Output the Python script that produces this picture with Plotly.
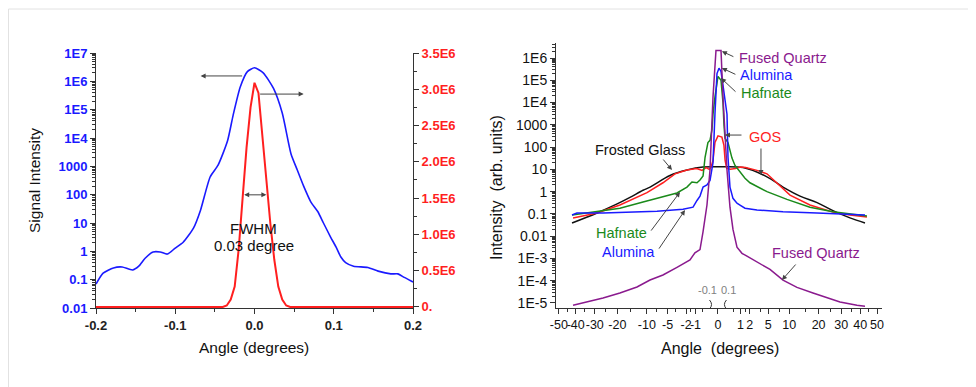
import numpy as np
import plotly.graph_objects as go

W, H = 976, 387
OX, OY = 8, 8  # page body margin of the rendered html
FONT = "Arial, Liberation Sans, sans-serif"

# ---------------- Left panel data ----------------
left_angle = [-0.2, -0.191, -0.178, -0.167, -0.154, -0.146, -0.138, -0.128, -0.119, -0.110, -0.100,
              -0.090, -0.077, -0.068, -0.056, -0.046, -0.034, -0.027, -0.018, -0.009, 0.0,
              0.011, 0.024, 0.035, 0.046, 0.054, 0.062, 0.071, 0.080, 0.087, 0.096, 0.103,
              0.109, 0.115, 0.125, 0.143, 0.156, 0.172, 0.181, 0.189, 0.2]
left_signal = [0.07, 0.17, 0.26, 0.28, 0.22, 0.3, 0.57, 0.95, 0.95, 0.8, 1.3,
               2.1, 6.6, 29, 420, 1100, 8000, 6.3e4, 6.3e5, 2.2e6, 3.0e6,
               2.0e6, 5.6e5, 7.6e4, 2800, 740, 200, 56, 25, 10, 3.2, 1.4,
               0.63, 0.4, 0.3, 0.27, 0.2, 0.16, 0.16, 0.12, 0.083]

red_angle = [-0.2, -0.04, -0.035, -0.03, -0.025, -0.02, -0.015, -0.01, -0.005, 0.0,
             0.005, 0.01, 0.015, 0.02, 0.025, 0.03, 0.035, 0.04, 0.045, 0.2]
red_signal = [0, 0, 0.02e6, 0.1e6, 0.28e6, 0.79e6, 1.5e6, 2.2e6, 2.75e6, 3.09e6,
              2.95e6, 2.34e6, 1.7e6, 1.15e6, 0.65e6, 0.28e6, 0.1e6, 0.02e6, 0, 0]

left_x_ticks = [-0.2, -0.1, 0.0, 0.1, 0.2]
left_x_labels = ["-0.2", "-0.1", "0.0", "0.1", "0.2"]
left_y_ticks = [1e-2, 1e-1, 1, 10, 100, 1000, 1e4, 1e5, 1e6, 1e7]
left_y_labels = ["0.01", "0.1", "1", "10", "100", "1000", "1E4", "1E5", "1E6", "1E7"]
red_ticks = [0, 0.5e6, 1.0e6, 1.5e6, 2.0e6, 2.5e6, 3.0e6, 3.5e6]
red_labels = ["0.", "0.5E6", "1.0E6", "1.5E6", "2.0E6", "2.5E6", "3.0E6", "3.5E6"]

# ---------------- Right panel data ----------------
fg_angle = [-42.1, -28.9, -20.1, -15.3, -11.1, -9.1, -4.55, -1.9, -0.44, 0.0, 1.24, 4.74,
            8.35, 13.3, 19.4, 26.1, 34.4, 42.7]
fg_val = [0.039, 0.11, 0.28, 0.55, 1.15, 1.6, 5.3, 9.3, 12.6, 13, 12, 4.6,
          1.6, 0.63, 0.32, 0.14, 0.066, 0.039]

gos_angle = [-41.5, -28.9, -19.0, -15.3, -9.96, -5.98, -3.65, -1.9, -0.9, -0.5, -0.28, -0.15,
             -0.1, -0.05, -0.018, 0.0, 0.03, 0.07, 0.1, 0.15, 0.3, 0.6, 1.0, 1.5, 2.0, 3.0,
             4.74, 6.88, 10.24, 16.7, 26.1, 34.4, 43.85]
gos_val = [0.066, 0.11, 0.25, 0.4, 0.9, 2.5, 6.3, 9.3, 11, 9, 12, 10,
           12, 25, 160, 320, 280, 120, 25, 11, 10, 11, 12.6, 12, 11, 9,
           6.3, 2.5, 0.7, 0.25, 0.12, 0.09, 0.072]

hf_angle = [-42.1, -28.9, -19.0, -11.1, -5.98, -3.32, -1.9, -1.34, -0.87, -0.64, -0.44, -0.33,
            -0.2, -0.126, -0.071, -0.049, -0.018, 0.0, 0.018, 0.049, 0.071, 0.097, 0.198,
            0.284, 0.387, 0.571, 0.956, 1.44, 2.02, 4.74, 9.4, 16.7, 26.1, 34.4, 43.85]
hf_val = [0.089, 0.126, 0.18, 0.34, 0.58, 0.87, 1.6, 2.7, 2.5, 3.3, 5, 35,
          160, 200, 600, 3000, 1.8e4, 1.5e5, 1e5, 1e4, 1000, 250, 160,
          80, 32, 15, 8, 4, 2.5, 1.0, 0.45, 0.2, 0.126, 0.1, 0.08]

al_angle = [-42.1, -39.3, -26.1, -16.4, -7.35, -2.42, -1.23, -0.87, -0.64, -0.44, -0.24, -0.126,
            -0.071, -0.049, -0.018, -0.002, 0.002, 0.018, 0.049, 0.097, 0.16, 0.198, 0.284,
            0.444, 0.713, 0.956, 1.44, 3.0, 8.35, 19.36, 34.4, 42.7]
al_val = [0.089, 0.11, 0.11, 0.12, 0.13, 0.16, 0.2, 0.4, 0.63, 1.6, 2.0, 3.2,
          10, 20, 3200, 2e5, 3.5e5, 2.5e5, 6e4, 1e4, 3000, 35, 1.6,
          0.5, 0.3, 0.25, 0.18, 0.15, 0.126, 0.11, 0.1, 0.089]

fq_angle = [-41.5, -33.9, -26.1, -19.0, -12.96, -9.13, -5.98, -3.32, -1.55, -1.05, -0.64,
            -0.44, -0.24, -0.126, -0.049, -0.008, 0.018, 0.049, 0.16, 0.284, 0.444, 0.713,
            1.138, 1.66, 3.16, 5.34, 8.35, 12.33, 17.83, 23.47, 29.4, 38.17, 42.7]
fq_val = [7.9e-6, 1.1e-5, 1.66e-5, 2.8e-5, 5.2e-5, 1.07e-4, 1.8e-4, 4e-4, 8.5e-4, 1.8e-3, 2.5e-3,
          0.016, 0.25, 9.3, 1.8e4, 2.2e6, 2.2e6, 1.8e4, 9.3, 0.2, 0.02, 3.2e-3,
          1.7e-3, 1.26e-3, 6.3e-4, 3.2e-4, 1.07e-4, 5e-5, 2.8e-5, 1.66e-5, 1.1e-5, 7.9e-6, 7.2e-6]

right_x_ticks = [-50, -40, -30, -20, -10, -5, -2, -1, 0, 1, 2, 5, 10, 20, 30, 40, 50]
right_x_labels = [str(v) for v in right_x_ticks]
right_x_minor = [-45, -35, -25, -15, -7.5, -3.5, -1.5, -0.5, 0.5, 1.5, 3.5, 7.5, 15, 25, 35, 45]
right_y_ticks = [1e-5, 1e-4, 1e-3, 1e-2, 1e-1, 1, 10, 100, 1000, 1e4, 1e5, 1e6]
right_y_labels = ["1E-5", "1E-4", "1E-3", "0.01", "0.1", "1", "10", "100", "1000", "1E4", "1E5", "1E6"]


def sq(a):
    """signed square-root scale used by the right panel's angle axis"""
    a = np.asarray(a, dtype=float)
    return np.sign(a) * np.sqrt(np.abs(a))


def log_minor(lo, hi):
    return [k * 10.0 ** n for n in range(lo, hi) for k in range(2, 10)]


def px(x):
    return (x - OX) / W


def py(y):
    return 1 - (y - OY) / H


BLUE = "#1a1aff"
RED = "#ff1f1f"
GREEN = "#1a8a1a"
PURPLE = "#8a1a8e"
BLACK = "#111111"

fig = go.Figure()

# left panel traces
fig.add_trace(go.Scatter(x=red_angle, y=red_signal, mode="lines", xaxis="x", yaxis="y2",
                         line=dict(color=RED, width=2), hoverinfo="skip"))
fig.add_trace(go.Scatter(x=left_angle, y=left_signal, mode="lines", xaxis="x", yaxis="y",
                         line=dict(color=BLUE, width=1.6, shape="spline", smoothing=0.6),
                         hoverinfo="skip"))

# right panel traces
for ang, val, col, shp in [
    (fg_angle, fg_val, BLACK, "spline"),
    (gos_angle, gos_val, RED, "linear"),
    (hf_angle, hf_val, GREEN, "linear"),
    (al_angle, al_val, BLUE, "linear"),
    (fq_angle, fq_val, PURPLE, "linear"),
]:
    fig.add_trace(go.Scatter(x=sq(ang), y=val, mode="lines", xaxis="x2", yaxis="y3",
                             line=dict(color=col, width=1.5, shape=shp), hoverinfo="skip"))

axis_common = dict(showgrid=False, zeroline=False, showline=True, linecolor="#333333",
                   linewidth=1, ticks="outside", ticklen=5, tickcolor="#333333", tickwidth=1,
                   automargin=False)

fig.update_layout(
    template="none",
    width=W, height=H,
    margin=dict(l=0, r=0, t=0, b=0, pad=0),
    paper_bgcolor="white", plot_bgcolor="white",
    showlegend=False,
    font=dict(family=FONT, color="#111111"),
    xaxis=dict(domain=[px(96), px(413)], range=[-0.2, 0.2], anchor="y",
               tickmode="array", tickvals=left_x_ticks, ticktext=left_x_labels,
               tickfont=dict(size=13, color="#222222", weight="bold"), tickangle=0,
               minor=dict(tickmode="array", tickvals=[-0.15, -0.05, 0.05, 0.15], ticks="outside",
                          ticklen=3, tickcolor="#333333"),
               layer="below traces", **axis_common),
    yaxis=dict(domain=[py(308), py(53)], type="log", range=[-2, 7], anchor="x",
               tickmode="array", tickvals=left_y_ticks, ticktext=left_y_labels,
               tickfont=dict(size=13, color=BLUE, weight="bold"),
               minor=dict(tickmode="array", tickvals=log_minor(-2, 7), ticks="outside",
                          ticklen=3, tickcolor="#333333"),
               layer="below traces", **axis_common),
    yaxis2=dict(overlaying="y", side="right", anchor="x", range=[-0.015e6, 3.5e6],
                tickmode="array", tickvals=red_ticks, ticktext=red_labels,
                tickfont=dict(size=13, color=RED, weight="bold"),
                minor=dict(tickmode="array", tickvals=[0.25e6 + 0.5e6 * i for i in range(7)],
                           ticks="outside", ticklen=3, tickcolor="#333333"),
                layer="below traces", **axis_common),
    xaxis2=dict(domain=[px(556), px(882)], range=[-7.2, 7.29], anchor="y3",
                tickmode="array", tickvals=list(sq(right_x_ticks)), ticktext=right_x_labels,
                tickfont=dict(size=12.5, color="#111111"), tickangle=0,
                minor=dict(tickmode="array", tickvals=list(sq(right_x_minor)), ticks="outside",
                           ticklen=3, tickcolor="#333333"),
                **axis_common),
    yaxis3=dict(domain=[py(308), py(43)], type="log", range=[-5.226, 6.674], anchor="x2",
                tickmode="array", tickvals=right_y_ticks, ticktext=right_y_labels,
                tickfont=dict(size=14, color="#111111"),
                minor=dict(tickmode="array", tickvals=log_minor(-5, 7), ticks="outside",
                           ticklen=3, tickcolor="#333333"),
                **axis_common),
)

ann = []


def text(x, y, s, size=15, color="#111111", angle=0):
    ann.append(dict(x=px(x), y=py(y), xref="paper", yref="paper", text=s, showarrow=False,
                    font=dict(size=size, color=color, family=FONT), textangle=angle,
                    xanchor="center", yanchor="middle"))


def arrow(x, y, ax, ay, xref, yref, side="end", color="#444444"):
    ann.append(dict(x=x, y=y, xref=xref, yref=yref, ax=ax, ay=ay, axref="pixel", ayref="pixel",
                    text="", showarrow=True, arrowhead=2, arrowsize=1, arrowwidth=1,
                    arrowcolor=color, arrowside=side, standoff=0, startstandoff=0))


# axis titles
text(34, 181, "Signal Intensity", size=15.5, angle=-90)
text(254, 347, "Angle (degrees)", size=15.5)
text(497, 188, "Intensity\u00a0 (arb. units)", size=16, angle=-90)
text(720, 348, "Angle\u00a0 (degrees)", size=16)

# left panel annotations
arrow(-0.068, 6.19, 43, 0, "x", "y")
arrow(0.062, 5.55, -45, 0, "x", "y")
arrow(0.015, 1.545e6, -23.7, 0, "x", "y2", side="end+start")
text(254, 228, "FWHM", size=15)
text(254, 246, "0.03 degree", size=15)

# right panel labels
text(783, 58, "Fused Quartz", size=14.5, color=PURPLE)
text(766, 75, "Alumina", size=14.5, color=BLUE)
text(766, 93, "Hafnate", size=14.5, color=GREEN)
text(765, 137, "GOS", size=14.5, color=RED)
text(640, 150, "Frosted Glass", size=14.5, color=BLACK)
text(621, 233, "Hafnate", size=14.5, color=GREEN)
text(628, 252, "Alumina", size=14.5, color=BLUE)
text(816, 253, "Fused Quartz", size=14.5, color=PURPLE)


def rx(a):
    return float(sq(a))


arrow(rx(0.03), 6.3, 13, 6, "x2", "y3")
arrow(rx(0.03), 5.55, 15, 7, "x2", "y3")
arrow(rx(0.018), 5.1, 16, 15, "x2", "y3")
arrow(rx(0.097), 2.54, 18, 0, "x2", "y3")
arrow(rx(3.65), 0.746, 0, -28, "x2", "y3")
arrow(rx(-4.18), 0.97, -10, -12, "x2", "y3")
arrow(rx(-2.85), -0.02, -30, 40, "x2", "y3")
arrow(rx(-2.15), -0.83, -27, 40, "x2", "y3")
arrow(rx(8.09), -3.97, 15, -17, "x2", "y3")

# gray break labels near zero
ann.append(dict(x=rx(-0.1), y=py(298), xref="x2", yref="paper", text="-0.1", showarrow=False,
                font=dict(size=11, color="#808080", family=FONT), xanchor="center", xshift=-3))
ann.append(dict(x=rx(0.1), y=py(298), xref="x2", yref="paper", text="0.1", showarrow=False,
                font=dict(size=11, color="#808080", family=FONT), xanchor="center", xshift=3))

fig.update_layout(annotations=ann)

shapes = []
# outer light frame
shapes.append(dict(type="rect", xref="paper", yref="paper", x0=px(8.5), x1=1.05, y0=-0.05, y1=py(9),
                   line=dict(color="#e2e2e2", width=1), layer="below"))
# axis-break marks at +/-0.1 deg
yb0, yb1 = py(309), py(300)
for a, d in [(-0.1, 0.12), (0.1, -0.12)]:
    u = rx(a)
    shapes.append(dict(type="path", xref="x2", yref="paper",
                       path=f"M {u - d / 2},{yb1} Q {u + d},{(yb0 + yb1) / 2} {u - d / 2},{yb0}",
                       line=dict(color="#333333", width=1)))
fig.update_layout(shapes=shapes)

fig.write_html("out.html")
